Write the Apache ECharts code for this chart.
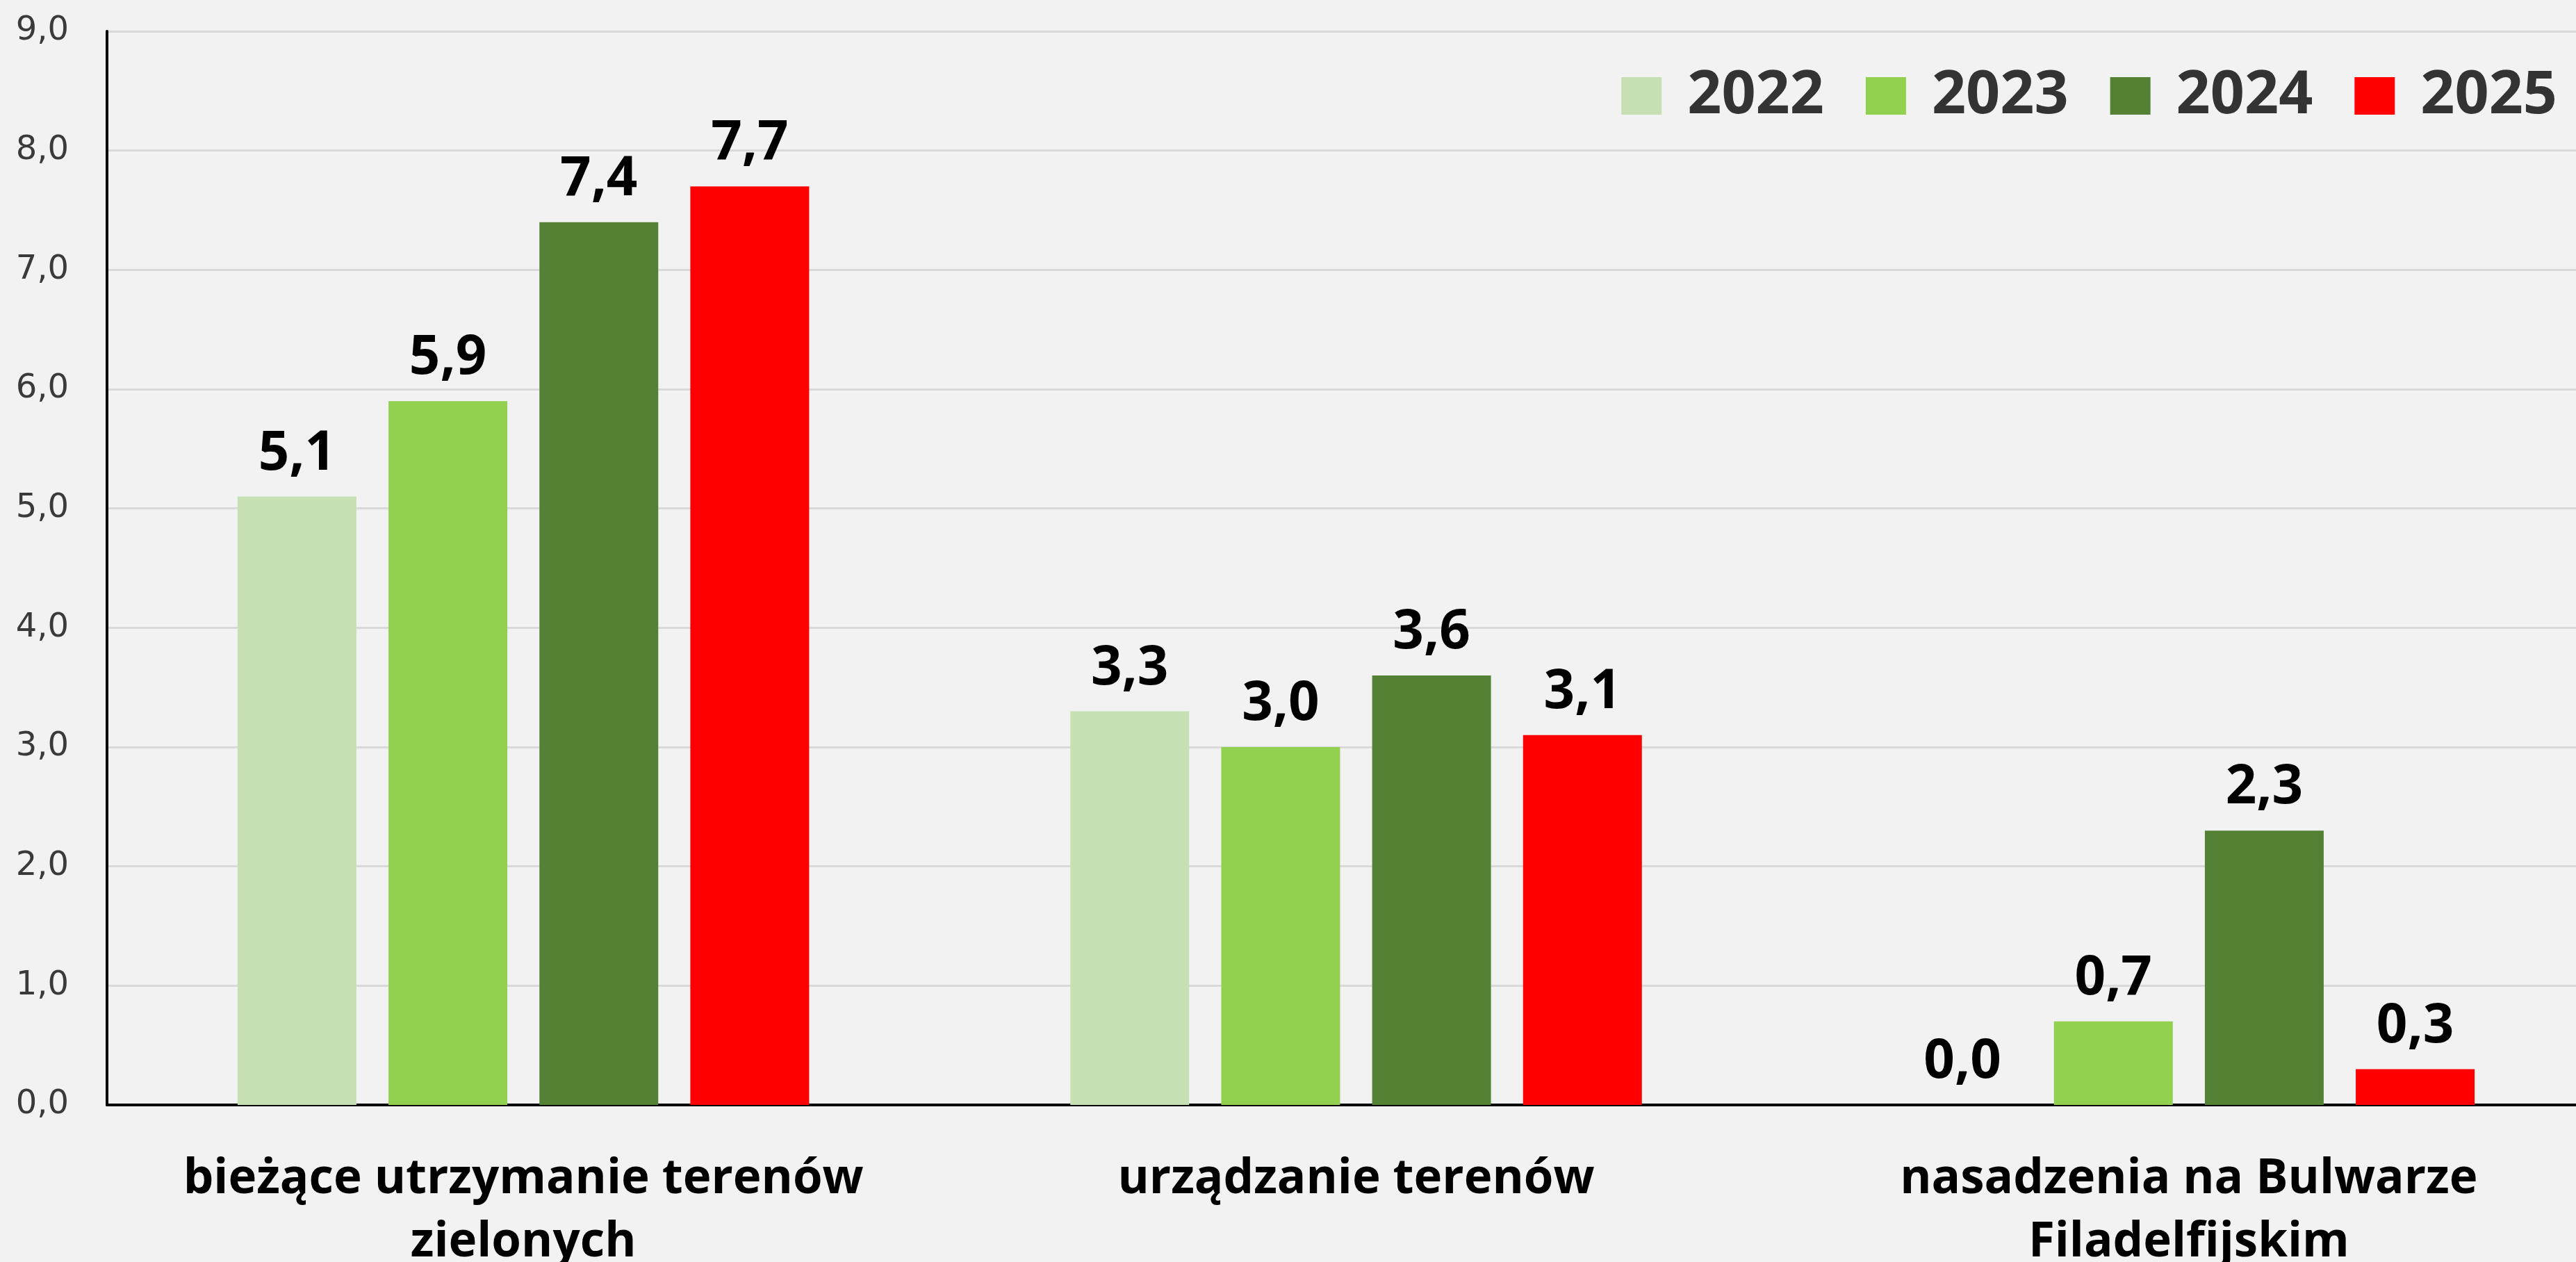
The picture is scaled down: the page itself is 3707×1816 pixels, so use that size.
<!DOCTYPE html>
<html>
<head>
<meta charset="utf-8">
<script src="https://cdn.jsdelivr.net/npm/echarts@6/dist/echarts.min.js"></script>
<style>
html,body{margin:0;padding:0;background:#f2f2f2;overflow:hidden;width:3707px;height:1816px;}
#chart{width:3760px;height:1816px;}
</style>
</head>
<body>
<div id="chart"></div>
<script>
const categories = ["bieżące utrzymanie terenów\nzielonych", "urządzanie terenów", "nasadzenia na Bulwarze\nFiladelfijskim"];
const years = ["2022", "2023", "2024", "2025"];
const values2022 = [5.1, 3.3, 0.0];
const values2023 = [5.9, 3.0, 0.7];
const values2024 = [7.4, 3.6, 2.3];
const values2025 = [7.7, 3.1, 0.3];
const colors = ["#c6e0b4", "#92d050", "#548235", "#ff0000"];

const fmt = v => Number(v).toFixed(1).replace('.', ',');
const seriesData = [values2022, values2023, values2024, values2025];

const chart = echarts.init(document.getElementById('chart'), null, {renderer: 'canvas'});
chart.setOption({
  backgroundColor: '#f2f2f2',
  animation: false,
  grid: {left: 154, top: 45, right: 11, bottom: 226, outerBoundsMode: 'none', containLabel: false},
  legend: {
    right: 75, top: 90,
    itemWidth: 58, itemHeight: 54, itemGap: 60,
    icon: 'rect',
    textStyle: {fontFamily: 'Open Sans', fontWeight: 'bold', fontSize: 86, color: '#333333', padding: [0,0,0,32]},
    data: years
  },
  xAxis: {
    type: 'category',
    data: categories,
    axisLine: {show: true, lineStyle: {color: '#000', width: 4}},
    axisTick: {show: false},
    axisLabel: {
      interval: 0, margin: 62,
      fontFamily: 'Open Sans', fontWeight: 'bold', fontSize: 69, color: '#000', lineHeight: 91
    }
  },
  yAxis: {
    type: 'value', min: 0, max: 9, interval: 1,
    axisLine: {show: true, lineStyle: {color: '#000', width: 4}},
    axisTick: {show: false},
    splitLine: {lineStyle: {color: '#d9d9d9', width: 3}},
    axisLabel: {margin: 55, fontFamily: 'DejaVu Sans', fontSize: 48, color: '#3a3a3a', formatter: fmt}
  },
  series: years.map((y, i) => ({
    name: y,
    type: 'bar',
    data: seriesData[i],
    barWidth: 171,
    barGap: '27%',
    itemStyle: {color: colors[i]},
    label: {
      show: true, position: 'top', distance: 22,
      fontFamily: 'Open Sans', fontWeight: 'bold', fontSize: 78, color: '#000',
      formatter: p => fmt(p.value)
    }
  }))
});
</script>
</body>
</html>
